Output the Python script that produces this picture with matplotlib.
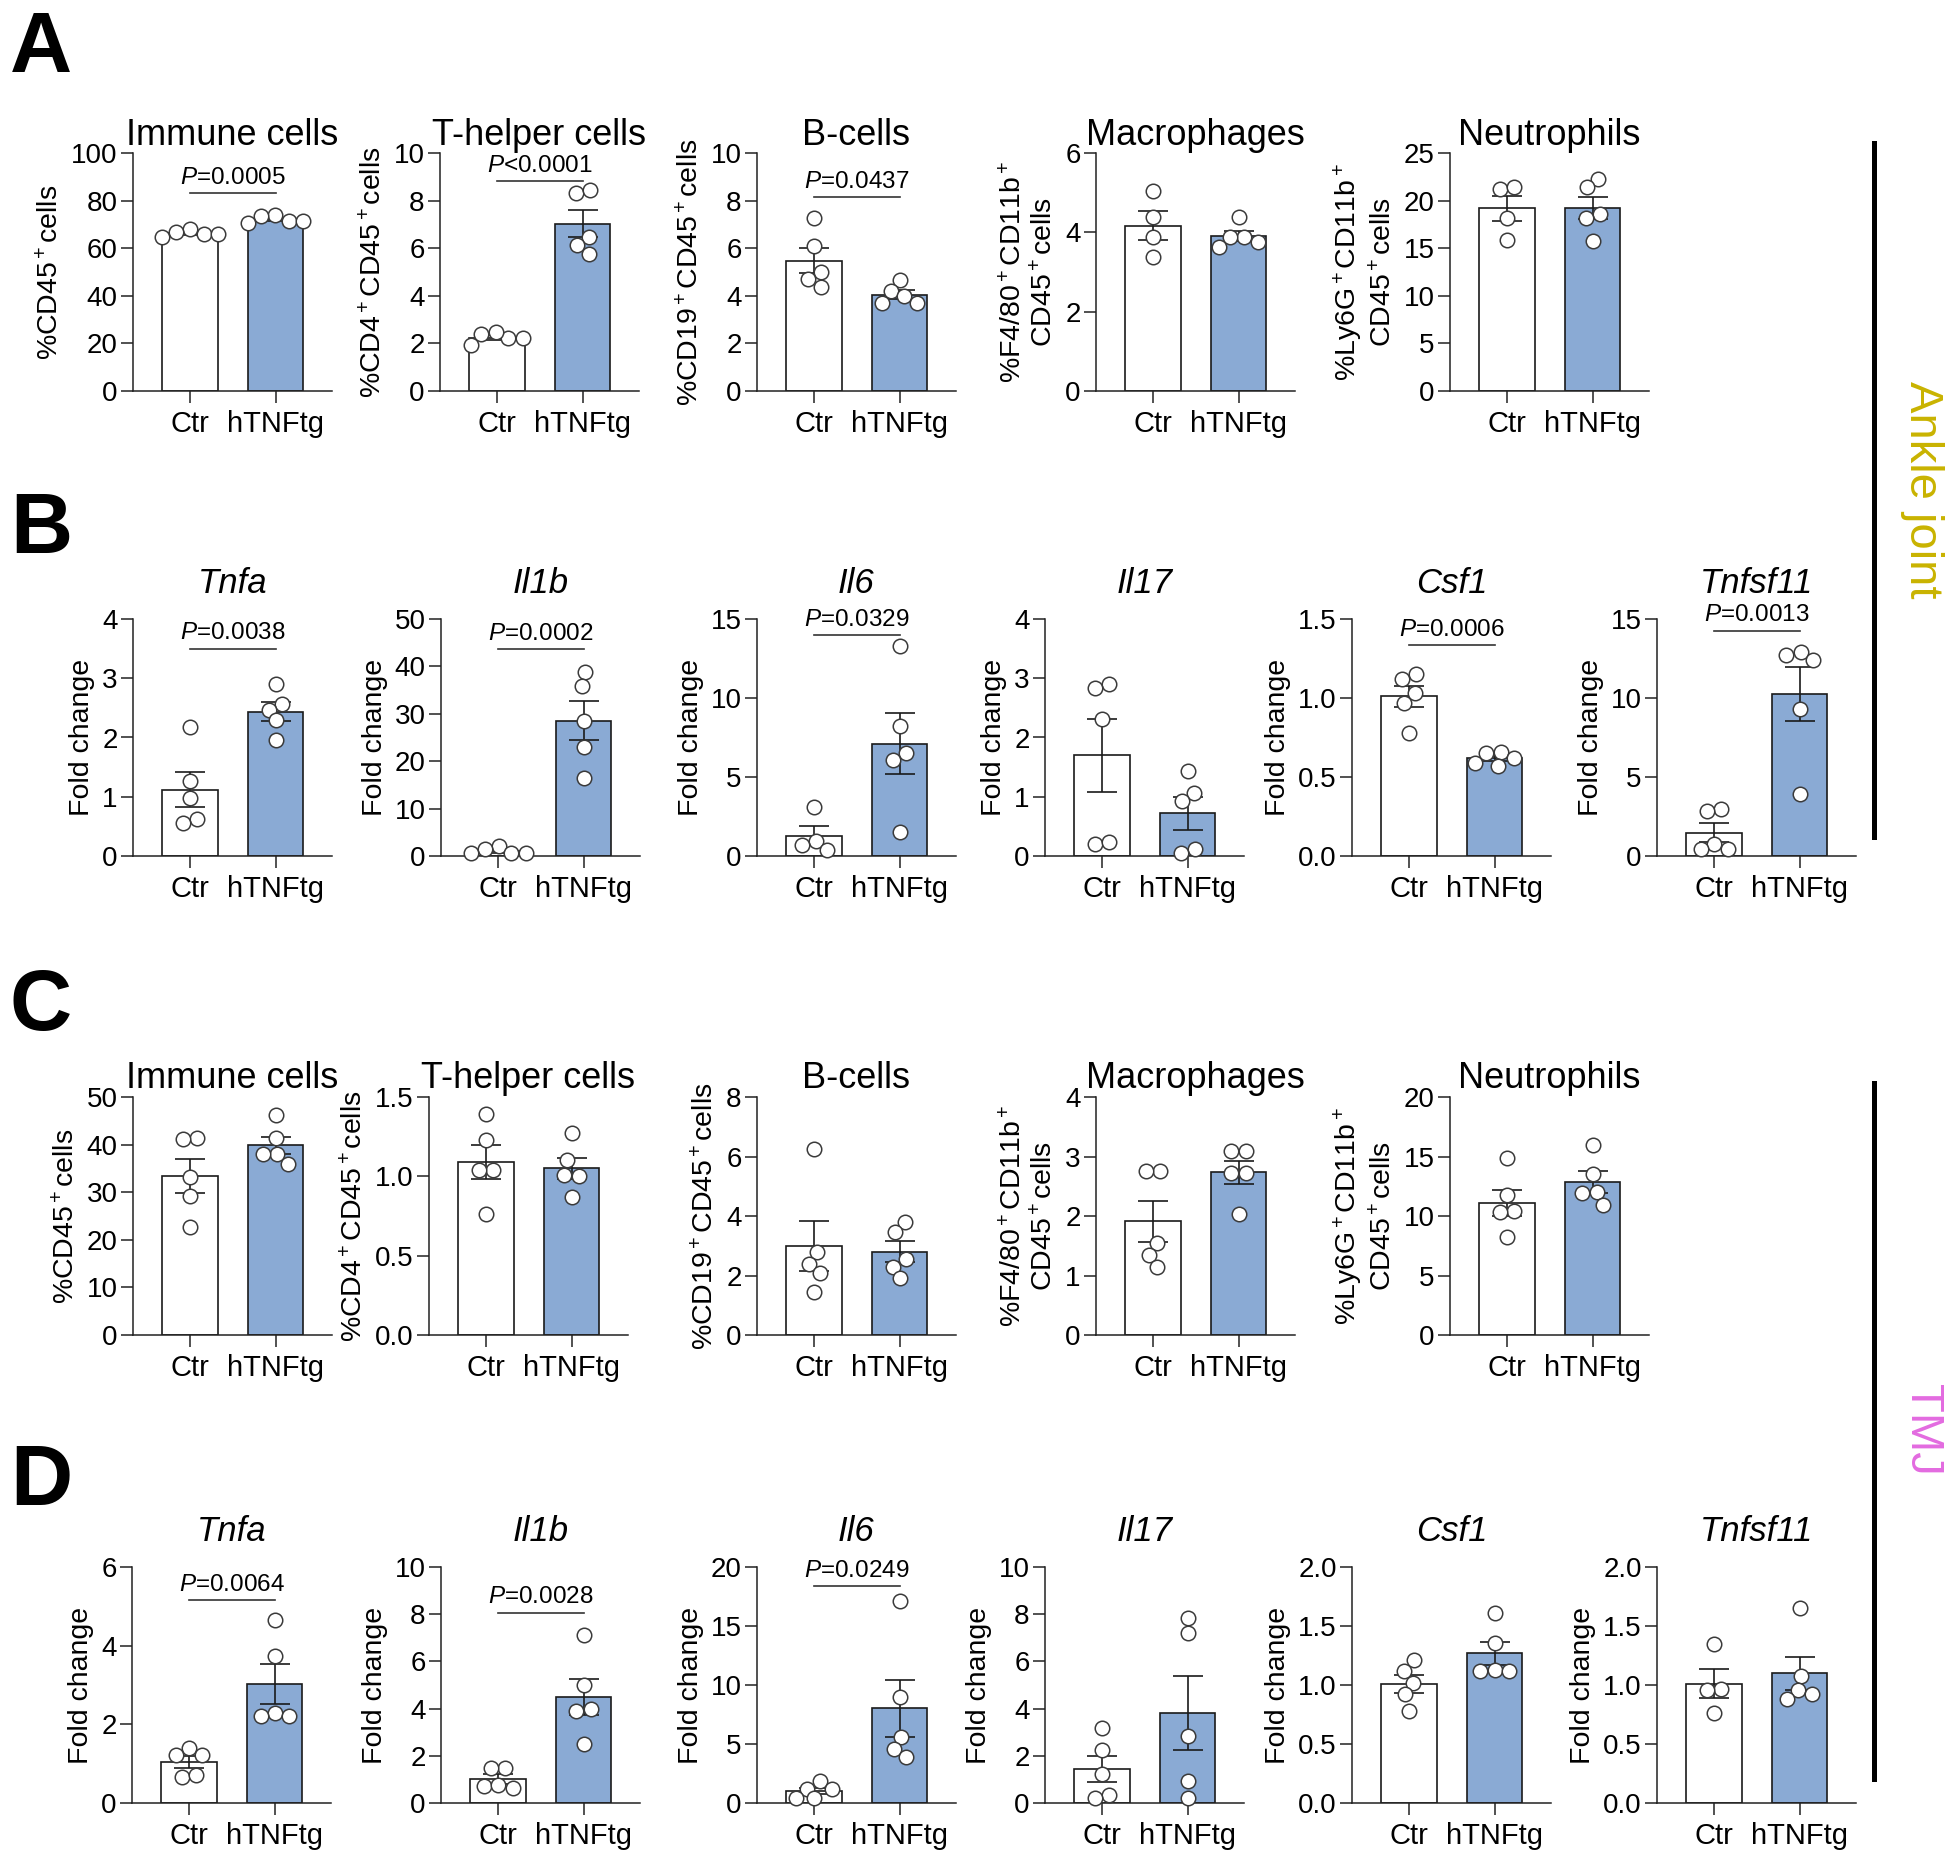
import numpy as np
import matplotlib
matplotlib.use("Agg")
import matplotlib.pyplot as plt
from matplotlib.lines import Line2D

plt.rcParams['font.family'] = ['Liberation Sans', 'DejaVu Sans']
plt.rcParams['mathtext.fontset'] = 'custom'
plt.rcParams['mathtext.rm'] = 'Liberation Sans'
plt.rcParams['mathtext.it'] = 'Liberation Sans:italic'
plt.rcParams['mathtext.default'] = 'regular'

groups = ['Ctr', 'hTNFtg']

# A: ankle joint, flow cytometry
a_titles = ['Immune cells', 'T-helper cells', 'B-cells', 'Macrophages', 'Neutrophils']
a_ylabels = ['%CD45$^+$cells', '%CD4$^+$CD45$^+$cells', '%CD19$^+$CD45$^+$cells',
             '%F4/80$^+$CD11b$^+$\nCD45$^+$cells', '%Ly6G$^+$CD11b$^+$\nCD45$^+$cells']
a_ymax = [100, 10, 10, 6, 25]
a_step = [20, 2, 2, 2, 5]
a_ctr = [[66, 68, 66, 67, 64.5], [2.21, 2.49, 2.21, 2.38, 1.93], [7.25, 6.1, 5.0, 4.7, 4.35],
         [5.05, 4.39, 3.87, 3.37], [21.2, 21.4, 18.2, 15.9]]
a_tg = [[71.5, 74, 71.5, 73.5, 70.5], [8.34, 8.46, 6.48, 6.13, 5.75], [4.65, 4.2, 4.0, 3.7, 3.7],
        [4.38, 3.89, 3.87, 3.75, 3.62], [22.3, 21.4, 18.6, 18.2, 15.8]]
a_p = ['=0.0005', '<0.0001', '=0.0437', None, None]
a_pline = [83, 8.83, 8.16, None, None]

# B: ankle joint, gene expression
b_titles = ['Tnfa', 'Il1b', 'Il6', 'Il17', 'Csf1', 'Tnfsf11']
b_ymax = [4, 50, 15, 4, 1.5, 15]
b_step = [1, 10, 5, 1, 0.5, 5]
b_ctr = [[2.17, 1.27, 0.98, 0.63, 0.55], [2.1, 0.55, 0.55, 1.4, 0.55], [3.07, 0.95, 0.38, 0.70],
         [2.90, 2.84, 2.32, 0.21, 0.23], [1.15, 1.12, 1.03, 0.97, 0.78], [2.96, 2.85, 0.74, 0.42, 0.42]]
b_tg = [[2.91, 2.57, 2.46, 2.29, 1.95], [38.8, 35.8, 28.5, 23.0, 16.5], [13.3, 8.2, 6.5, 6.1, 1.5],
        [1.43, 1.07, 0.93, 0.11, 0.05], [0.66, 0.62, 0.65, 0.59, 0.57], [12.7, 12.9, 12.4, 9.3, 3.9]]
b_p = ['=0.0038', '=0.0002', '=0.0329', None, '=0.0006', '=0.0013']
b_pline = [3.50, 43.7, 14.0, None, 1.336, 14.27]

# C: TMJ, flow cytometry
c_ymax = [50, 1.5, 8, 4, 20]
c_step = [10, 0.5, 2, 1, 5]
c_ctr = [[41.4, 41.1, 33.2, 29.1, 22.6], [1.39, 1.23, 1.04, 1.04, 0.76], [6.25, 2.8, 2.4, 2.1, 1.45],
         [2.75, 2.75, 1.55, 1.35, 1.15], [14.9, 11.75, 10.4, 10.3, 8.25]]
c_tg = [[46.2, 41.3, 38.0, 38.0, 36.0], [1.27, 1.10, 1.01, 1.0, 0.87], [3.8, 3.45, 2.55, 2.3, 1.9],
        [3.09, 3.09, 2.73, 2.73, 2.03], [16.0, 13.5, 12.0, 11.9, 10.9]]

# D: TMJ, gene expression
d_ymax = [6, 10, 20, 10, 2.0, 2.0]
d_step = [2, 2, 5, 2, 0.5, 0.5]
d_ctr = [[1.39, 1.23, 1.21, 0.66, 0.70], [1.5, 1.5, 0.7, 0.75, 0.65], [1.83, 1.21, 1.21, 0.42, 0.42],
         [3.17, 2.25, 1.24, 0.35, 0.21], [1.21, 1.12, 1.02, 0.92, 0.78], [1.35, 0.97, 0.96, 0.76]]
d_tg = [[4.65, 3.75, 2.3, 2.2, 2.2], [7.1, 5.0, 4.0, 3.9, 2.5], [17.1, 9.0, 5.63, 4.56, 3.86],
        [7.85, 7.21, 2.86, 0.94, 0.21], [1.61, 1.36, 1.12, 1.13, 1.12], [1.65, 1.08, 0.96, 0.88, 0.92]]
d_p = ['=0.0064', '=0.0028', '=0.0249', None, None, None]
d_pline = [5.16, 8.07, 18.4, None, None, None]

W, H = 1949, 1860
AXW = 199
XLIM = (-0.67, 1.66)
DIAM = 14.5          # dot diameter in px
fills = ['white', '#8AAAD4']
EDGE = '#1a1a1a'

fig = plt.figure(figsize=(W / 100, H / 100), dpi=100)


def beeswarm(vals, ypx, diam):
    # simple greedy swarm, offsets in px
    y = np.asarray(vals, float) * ypx
    order = np.argsort(-y, kind='stable')
    xs = np.zeros(len(y))
    done = []
    for k in order:
        cands = [0.0]
        for j in done:
            dy = y[k] - y[j]
            if abs(dy) < diam:
                dx = np.sqrt(diam ** 2 - dy ** 2) + 0.01
                cands += [xs[j] - dx, xs[j] + dx]
        cands.sort(key=lambda c: (abs(c), c))
        for c in cands:
            if all((c - xs[j]) ** 2 + (y[k] - y[j]) ** 2 >= diam ** 2 - 1e-6 for j in done):
                xs[k] = c
                break
        done.append(k)
    # centre each touching cluster
    n = len(y)
    lab = list(range(n))

    def find(i):
        while lab[i] != i:
            i = lab[i]
        return i
    for i in range(n):
        for j in range(i + 1, n):
            if np.hypot(xs[i] - xs[j], y[i] - y[j]) < diam * 1.05:
                lab[find(i)] = find(j)
    roots = [find(i) for i in range(n)]
    for r in set(roots):
        idx = [i for i in range(n) if roots[i] == r]
        if len(idx) > 1:
            xs[idx] -= (xs[idx].min() + xs[idx].max()) / 2
    return xs


def panel(left, top, bottom, title, ylabel, ymax, step, ctr, tg, p=None, pline=None,
          italic=False, tpad=6):
    ax = fig.add_axes([left / W, 1 - bottom / H, AXW / W, (bottom - top) / H])
    ax.set_xlim(*XLIM)
    ax.set_ylim(0, ymax)
    xpx = AXW / (XLIM[1] - XLIM[0])
    ypx = (bottom - top) / ymax
    for i, vals in enumerate([ctr, tg]):
        v = np.asarray(vals, float)
        m = v.mean()
        se = v.std(ddof=1) / np.sqrt(len(v))
        ax.bar(i, m, width=0.65, color=fills[i], edgecolor=EDGE, linewidth=1.2, zorder=2)
        ax.errorbar(i, m, yerr=se, fmt='none', ecolor=EDGE, elinewidth=1.2,
                    capsize=11, capthick=1.2, zorder=3)
        xo = beeswarm(v, ypx, DIAM) / xpx
        ax.scatter(i + xo, v, s=(DIAM / 1.389) ** 2, facecolor='white', edgecolor='#3a3a3a',
                   linewidth=1.1, zorder=4, clip_on=False)
    ticks = np.arange(0, ymax + step / 2, step)
    ax.set_yticks(ticks)
    fmt = '{:.1f}' if step < 1 else '{:.0f}'
    ax.set_yticklabels([fmt.format(t) for t in ticks])
    ax.set_xticks([0, 1])
    ax.set_xticklabels(groups)
    ax.tick_params(axis='y', direction='out', length=8.5, width=1.1, pad=2.5,
                   labelsize=20, color='#222')
    ax.tick_params(axis='x', direction='out', length=8.5, width=1.1, pad=5,
                   labelsize=21, color='#222')
    for s in ['top', 'right']:
        ax.spines[s].set_visible(False)
    for s in ['left', 'bottom']:
        ax.spines[s].set_linewidth(1.1)
        ax.spines[s].set_color('#222')
    ax.set_ylabel(ylabel, fontsize=20.5, labelpad=5)
    ax.set_title(title, fontsize=25 if italic else 26, style='italic' if italic else 'normal',
                 pad=tpad)
    if p is not None:
        ax.plot([0, 1], [pline, pline], color='#333', lw=1.2, clip_on=False)
        ax.annotate(r'$\mathit{P}$' + p, xy=(0.5, pline), xytext=(0, 3),
                    textcoords='offset points', ha='center', va='bottom', fontsize=17.5,
                    annotation_clip=False)
    return ax


# row A
a_left = [133, 440, 757, 1096, 1450]
for k in range(5):
    panel(a_left[k], 153, 391, a_titles[k], a_ylabels[k], a_ymax[k], a_step[k],
          a_ctr[k], a_tg[k], a_p[k], a_pline[k], tpad=6)

# row B
b_left = [133, 441, 757, 1045, 1352, 1657]
for k in range(6):
    panel(b_left[k], 619, 856, b_titles[k], 'Fold change', b_ymax[k], b_step[k],
          b_ctr[k], b_tg[k], b_p[k], b_pline[k], italic=True, tpad=19)

# row C
c_left = [133, 429, 757, 1096, 1450]
for k in range(5):
    panel(c_left[k], 1097, 1335, a_titles[k], a_ylabels[k], c_ymax[k], c_step[k],
          c_ctr[k], c_tg[k], tpad=6.5)

# row D
d_left = [132, 441, 757, 1045, 1352, 1657]
for k in range(6):
    panel(d_left[k], 1567, 1803, b_titles[k], 'Fold change', d_ymax[k], d_step[k],
          d_ctr[k], d_tg[k], d_p[k], d_pline[k], italic=True, tpad=19)

# panel letters
for letter, yb in zip('ABCD', [72, 553, 1030, 1505]):
    fig.text(10 / W, 1 - yb / H, letter, fontsize=62, weight='bold', ha='left', va='baseline')

# side labels and bars
fig.add_artist(Line2D([1874 / W] * 2, [1 - 143 / H, 1 - 837 / H], lw=3.6, color='black'))
fig.add_artist(Line2D([1874 / W] * 2, [1 - 1083 / H, 1 - 1779 / H], lw=3.6, color='black'))
fig.text(1922 / W, 1 - 490 / H, 'Ankle joint', rotation=270, ha='center', va='center',
         fontsize=34, color='#C9B300')
fig.text(1922 / W, 1 - 1430 / H, 'TMJ', rotation=270, ha='center', va='center',
         fontsize=34, color='#E36BE0')

fig.savefig('out.png', dpi=100)
